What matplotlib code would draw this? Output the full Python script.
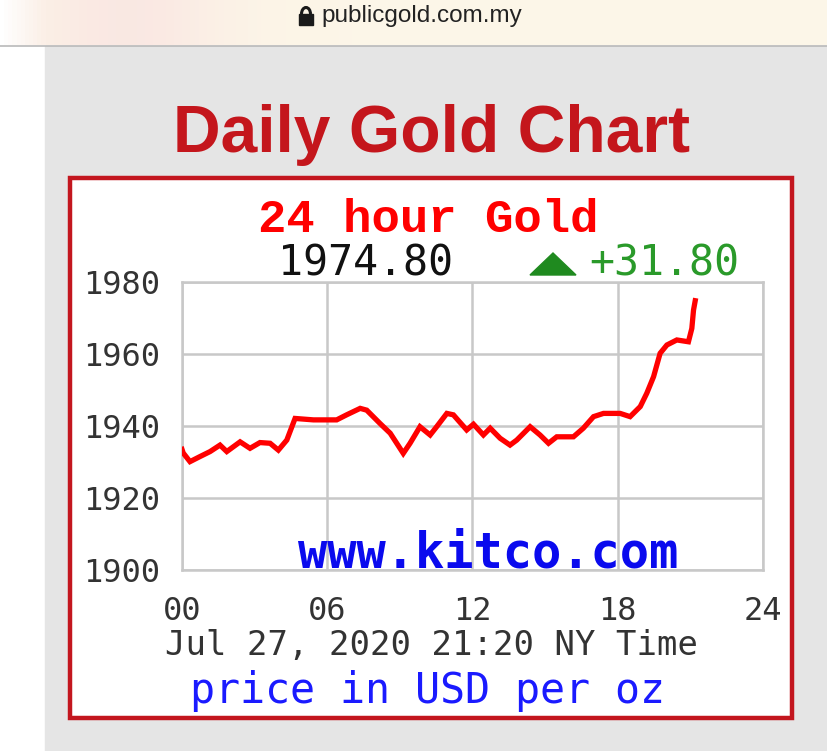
import numpy as np
import matplotlib.pyplot as plt
from matplotlib.patches import Rectangle, Polygon, Arc

# gold price over the day (hours since 00:00 NY time)
hours = [0.0, 0.05, 0.33, 0.74, 1.16, 1.57, 1.85, 2.4, 2.81, 3.22, 3.64, 3.98,
         4.33, 4.67, 5.43, 6.39, 6.8, 7.36, 7.63, 8.18, 8.6, 8.87, 9.14, 9.42,
         9.83, 10.25, 10.52, 10.94, 11.21, 11.76, 12.04, 12.45, 12.73, 13.14,
         13.55, 13.83, 14.38, 14.79, 15.14, 15.48, 16.17, 16.58, 17.0, 17.41,
         18.1, 18.51, 18.93, 19.2, 19.48, 19.75, 20.03, 20.44, 20.92, 21.06,
         21.13, 21.2]
prices = [1933.5, 1932.5, 1930.1, 1931.5, 1932.9, 1934.7, 1932.9, 1935.6,
          1933.8, 1935.4, 1935.2, 1933.3, 1936.1, 1942.1, 1941.7, 1941.7,
          1943.1, 1944.9, 1944.4, 1940.7, 1938.0, 1935.2, 1932.4, 1935.2,
          1939.8, 1937.5, 1939.8, 1943.5, 1943.1, 1938.9, 1940.5, 1937.5,
          1939.4, 1936.6, 1934.7, 1936.1, 1939.8, 1937.5, 1935.2, 1937.0,
          1937.0, 1939.4, 1942.6, 1943.5, 1943.5, 1942.6, 1945.4, 1949.1,
          1953.7, 1960.2, 1962.5, 1963.9, 1963.4, 1967.1, 1972.2, 1974.8]
xticks = [0, 6, 12, 18, 24]
xticklabels = ['00', '06', '12', '18', '24']
yticks = [1900, 1920, 1940, 1960, 1980]
last_price = '1974.80'
change = '+31.80'

W, H = 828, 751
fig = plt.figure(figsize=(W / 100, H / 100), dpi=100)
fig.patch.set_facecolor('white')

# page background drawn in pixel coordinates
bg = fig.add_axes([0, 0, 1, 1], zorder=-1)
bg.set_xlim(0, W)
bg.set_ylim(H, 0)
bg.axis('off')

# browser address bar with soft gradient
grad = np.ones((1, 200, 3))
t = np.linspace(0, 1, 200)
pink = np.array([0.98, 0.91, 0.89])
cream = np.array([0.99, 0.965, 0.91])
w = np.exp(-((t - 0.15) / 0.12) ** 2)[:, None]
grad[0] = w * pink + (1 - w) * cream
fade = np.linspace(1, 0, 12)[:, None]
grad[0, :12] = fade * 1.0 + (1 - fade) * grad[0, 12]
bg.imshow(grad, extent=[0, W, 45, 0], aspect='auto', zorder=0)
bg.plot([0, W], [45.5, 45.5], color='#b9b9b9', lw=1.2, zorder=1)
bg.add_patch(Rectangle((299, 14), 14, 11, color='#1a1a1a', zorder=2))
bg.add_patch(Arc((306, 14), 9, 13, theta1=180, theta2=360, color='#1a1a1a',
                 lw=2.2, zorder=2))
bg.text(321, 16, 'publicgold.com.my', fontsize=17.5, color='#222222',
        family='Liberation Sans', ha='left', va='center')

# grey content panel
bg.add_patch(Rectangle((45, 46), W - 45, H - 46, color='#e5e5e5', zorder=0))
bg.text(432, 152, 'Daily Gold Chart', fontsize=47.5, color='#c4161c',
        family='Liberation Sans', weight='bold', ha='center', va='baseline')

# chart card with red frame
bg.add_patch(Rectangle((70, 178), 722, 540, facecolor='white',
                       edgecolor='#c3161e', lw=3.2, zorder=1))

mono = 'DejaVu Sans Mono'
bg.text(428, 232, '24 hour Gold', fontsize=34, color='#ff0000',
        family='Liberation Mono', weight='bold', ha='center', va='baseline')
bg.text(366, 275, last_price, fontsize=30, color='#111111', family=mono,
        ha='center', va='baseline')
bg.add_patch(Polygon([(530, 275), (576, 275), (553, 253)], closed=True,
                     color='#1f8a1f', zorder=2))
bg.text(664, 275, change, fontsize=30, color='#2a9a2a', family=mono,
        ha='center', va='baseline')
bg.text(432, 655, 'Jul 27, 2020 21:20 NY Time', fontsize=24.5, color='#333333',
        family=mono, ha='center', va='baseline')
bg.text(428, 703, 'price in USD per oz', fontsize=30, color='#1a1aff',
        family=mono, ha='center', va='baseline')

# the price chart
x0, x1, y0, y1 = 182, 763, 282, 570
ax = fig.add_axes([x0 / W, 1 - y1 / H, (x1 - x0) / W, (y1 - y0) / H])
ax.set_facecolor('white')
ax.plot(hours, prices, color='#ff0000', lw=3.8, solid_joinstyle='miter', zorder=3)
ax.set_xlim(0, 24)
ax.set_ylim(1900, 1980)
ax.set_xticks(xticks)
ax.set_xticklabels(xticklabels)
ax.set_yticks(yticks)
ax.set_yticklabels([str(v) for v in yticks])
ax.grid(True, color='#c8c8c8', lw=1.8)
for s in ax.spines.values():
    s.set_color('#c8c8c8')
    s.set_linewidth(1.8)
ax.tick_params(length=0, labelsize=23, colors='#333333')
ax.tick_params(axis='x', pad=19)
ax.tick_params(axis='y', pad=16)
for lab in ax.get_xticklabels() + ax.get_yticklabels():
    lab.set_family(mono)

fig.text(488, 568, 'www.kitco.com', transform=bg.transData, fontsize=35,
         color='#0a0aee', family=mono, weight='bold', ha='center', va='baseline')

fig.savefig('out.png', dpi=100)
